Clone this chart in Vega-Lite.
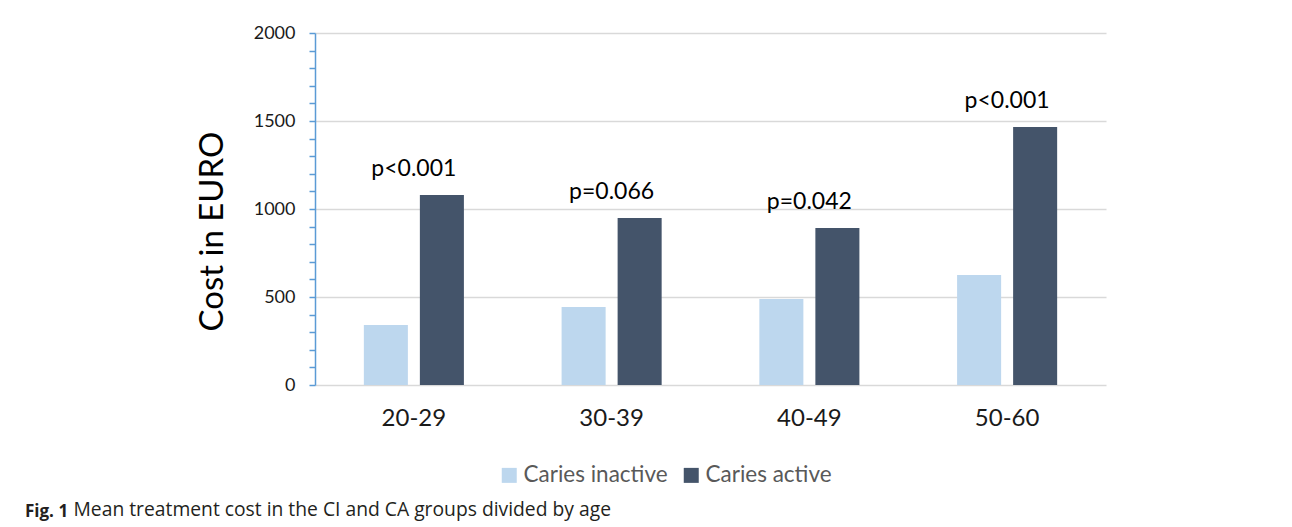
{
  "$schema": "https://vega.github.io/schema/vega-lite/v6.json",
  "autosize": "none",
  "width": 791,
  "height": 352,
  "padding": {"left": 315, "top": 33, "right": 186, "bottom": 142},
  "background": "white",
  "config": {
    "view": {"stroke": null},
    "font": "Lato"
  },
  "data": {
    "values": [
      {"age": "20-29", "group": "Caries inactive", "cost": 341, "p": null},
      {"age": "20-29", "group": "Caries active", "cost": 1080, "p": "p<0.001"},
      {"age": "30-39", "group": "Caries inactive", "cost": 443, "p": null},
      {"age": "30-39", "group": "Caries active", "cost": 949, "p": "p=0.066"},
      {"age": "40-49", "group": "Caries inactive", "cost": 489, "p": null},
      {"age": "40-49", "group": "Caries active", "cost": 892, "p": "p=0.042"},
      {"age": "50-60", "group": "Caries inactive", "cost": 625, "p": null},
      {"age": "50-60", "group": "Caries active", "cost": 1466, "p": "p<0.001"}
    ]
  },
  "title": {
    "text": "Fig. 1",
    "orient": "bottom",
    "anchor": "start",
    "frame": "group",
    "dx": -290,
    "offset": -15,
    "fontSize": 17,
    "fontWeight": "bold",
    "color": "#231f20",
    "font": "Open Sans"
  },
  "encoding": {
    "x": {
      "field": "age",
      "type": "nominal",
      "sort": null,
      "scale": {"paddingInner": 0.494, "paddingOuter": 0.247},
      "axis": {
        "title": "Mean treatment cost in the CI and CA groups divided by age",
        "titleFont": "Open Sans",
        "titleFontSize": 19.3,
        "titleFontWeight": "normal",
        "titleColor": "#231f20",
        "titleAnchor": "start",
        "titleAlign": "left",
        "titleBaseline": "alphabetic",
        "titleX": -242,
        "titleY": 130,
        "labelAngle": 0,
        "labelFontSize": 24,
        "labelColor": "#1a1a1a",
        "labelPadding": 21,
        "ticks": false,
        "domainColor": "#D9D9D9",
        "domainWidth": 1.5
      }
    },
    "y": {
      "field": "cost",
      "type": "quantitative",
      "scale": {"domain": [0, 2000], "nice": false},
      "axis": {
        "title": "Cost in EURO",
        "titleFontSize": 33,
        "titleFontWeight": "normal",
        "titleColor": "#000000",
        "titlePadding": 24,
        "titleY": 198,
        "values": [0,100,200,300,400,500,600,700,800,900,1000,1100,1200,1300,1400,1500,1600,1700,1800,1900,2000],
        "labelExpr": "datum.value % 500 === 0 ? datum.label : ''",
        "labelFontSize": 18,
        "labelColor": "#1a1a1a",
        "labelPadding": 14,
        "labelOverlap": false,
        "format": "d",
        "tickSize": 6,
        "tickColor": "#5B9BD5",
        "tickWidth": 1.5,
        "domainColor": "#5B9BD5",
        "domainWidth": 1.5,
        "grid": true,
        "gridColor": "#D9D9D9",
        "gridWidth": 1.5,
        "gridOpacity": {"condition": {"test": "datum.value % 500 === 0 && datum.value > 0", "value": 1}, "value": 0}
      }
    }
  },
  "layer": [
    {
      "mark": {"type": "bar"},
      "encoding": {
        "xOffset": {
          "field": "group",
          "type": "nominal",
          "sort": ["Caries inactive", "Caries active"],
          "scale": {"paddingInner": 0.214, "paddingOuter": 0}
        },
        "color": {
          "field": "group",
          "type": "nominal",
          "sort": ["Caries inactive", "Caries active"],
          "scale": {"domain": ["Caries inactive", "Caries active"], "range": ["#BDD7EE", "#44546A"]},
          "legend": {
            "title": null,
            "orient": "none",
            "legendX": 183,
            "legendY": 431,
            "direction": "horizontal",
            "symbolType": "square",
            "symbolSize": 225,
            "symbolStrokeWidth": 0,
            "labelFontSize": 22.5,
            "labelColor": "#595959",
            "columnPadding": 12,
            "labelOffset": 3
          }
        }
      }
    },
    {
      "transform": [{"filter": "datum.p != null"}],
      "mark": {"type": "text", "fontSize": 23, "color": "#000000", "baseline": "alphabetic", "dy": -19},
      "encoding": {
        "text": {"field": "p"}
      }
    }
  ]
}
